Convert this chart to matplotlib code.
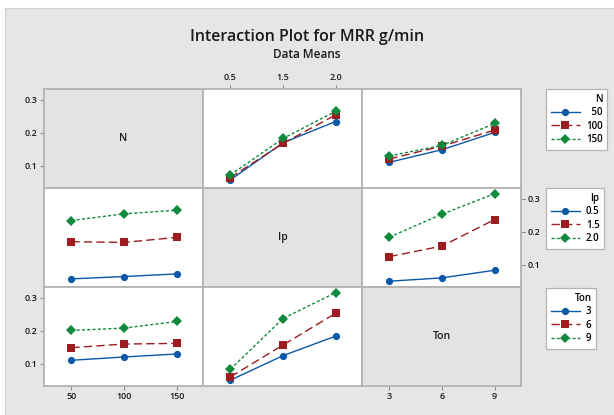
#!/usr/bin/env python3
"""
Interaction plot for MRR g/min (data means), Minitab style
"""

import numpy as np
import matplotlib
matplotlib.use("Agg")
import matplotlib.pyplot as plt
from matplotlib.lines import Line2D
from matplotlib.patches import Rectangle

plt.rcParams['font.family'] = ['Open Sans', 'DejaVu Sans']

# factor names and levels
factors = ['N', 'Ip', 'Ton']
levels = {
    'N': ['50', '100', '150'],
    'Ip': ['0.5', '1.5', '2.0'],
    'Ton': ['3', '6', '9'],
}

# cell means (rows = first factor level, cols = second factor level)
mean_N_Ip = [
    [0.058, 0.170, 0.234],   # N = 50
    [0.065, 0.168, 0.254],   # N = 100
    [0.073, 0.183, 0.265],   # N = 150
]
mean_N_Ton = [
    [0.111, 0.149, 0.201],
    [0.121, 0.160, 0.208],
    [0.130, 0.162, 0.228],
]
mean_Ip_Ton = [
    [0.051, 0.061, 0.084],   # Ip = 0.5
    [0.125, 0.157, 0.237],   # Ip = 1.5
    [0.184, 0.253, 0.315],   # Ip = 2.0
]

yticks = [0.1, 0.2, 0.3]

# series styles (level 1, 2, 3)
colors = ['#0a58a8', '#9e1b20', '#0f8a3c']
markers = ['o', 's', 'D']
dashes = ['-', (0, (6, 3)), (0, (2.2, 1.6))]
msizes = [5.2, 5.2, 5.0]

BG = '#e6e6e6'
EDGE = '#b3b3b3'


def cell_means(trace, xfac):
    """mean table indexed [trace level][x level]"""
    pair = (trace, xfac)
    if pair == ('N', 'Ip'):
        return np.array(mean_N_Ip)
    if pair == ('Ip', 'N'):
        return np.array(mean_N_Ip).T
    if pair == ('N', 'Ton'):
        return np.array(mean_N_Ton)
    if pair == ('Ton', 'N'):
        return np.array(mean_N_Ton).T
    if pair == ('Ip', 'Ton'):
        return np.array(mean_Ip_Ton)
    return np.array(mean_Ip_Ton).T


W, H = 614, 415
fig = plt.figure(figsize=(W / 100, H / 100), dpi=100)
fig.patch.set_facecolor('white')
fig.patches.append(Rectangle((5 / W, 0), 1, 1 - 8 / H, transform=fig.transFigure,
                             facecolor=BG, edgecolor='#d0d0d0', lw=0.8, zorder=-10))

fig.text(0.5, 1 - 37 / H, 'Interaction Plot for MRR g/min', ha='center', va='center',
         fontsize=11.5, fontweight='semibold', color='#1a1a1a')
fig.text(0.5, 1 - 54 / H, 'Data Means', ha='center', va='center',
         fontsize=8.5, fontweight='semibold', color='#1a1a1a')

col_x = [44, 203, 362]
row_y = [89, 188, 287]
pw, ph = 159, 98.5

axes = {}
for r, trace in enumerate(factors):
    for c, xfac in enumerate(factors):
        ax = fig.add_axes([col_x[c] / W, 1 - (row_y[r] + ph) / H, pw / W, ph / H])
        axes[(r, c)] = ax
        ax.set_xlim(-0.52, 2.5)
        ax.set_ylim(0.035, 0.332)
        for s in ax.spines.values():
            s.set_color(EDGE)
            s.set_linewidth(1.3)
        ax.tick_params(length=3, width=0.8, color='#8c8c8c', labelsize=6.5,
                       labelcolor='#1a1a1a', pad=2)
        ax.set_xticks([0, 1, 2])
        ax.set_yticks(yticks)
        ax.set_xticklabels(levels[xfac], fontweight='semibold')
        ax.set_yticklabels([f'{v:.1f}' for v in yticks], fontweight='semibold')
        ax.tick_params(bottom=False, labelbottom=False, left=False, labelleft=False)

        if r == c:
            ax.set_facecolor('#e3e3e3')
            ax.text(0.5, 0.5, trace, transform=ax.transAxes, ha='center', va='center',
                    fontsize=7.5, fontweight='semibold', color='#1a1a1a')
        else:
            ax.set_facecolor('white')
            m = cell_means(trace, xfac)
            x = np.arange(len(levels[xfac]))
            for i in range(m.shape[0]):
                ax.plot(x, m[i], color=colors[i], linestyle=dashes[i], lw=1.0,
                        marker=markers[i], markersize=msizes[i],
                        markeredgewidth=0, zorder=3 + i)

# axis labelling as in Minitab matrix
axes[(0, 0)].tick_params(left=True, labelleft=True)
axes[(2, 0)].tick_params(left=True, labelleft=True)
axes[(1, 2)].tick_params(right=True, labelright=True)
axes[(0, 1)].tick_params(top=True, labeltop=True)
axes[(2, 0)].tick_params(bottom=True, labelbottom=True)
axes[(2, 2)].tick_params(bottom=True, labelbottom=True)

# legends, one per row
leg_top = [89, 188, 288]
for r, trace in enumerate(factors):
    handles = [Line2D([], [], color=colors[i], linestyle=dashes[i], lw=1.0,
                      marker=markers[i], markersize=msizes[i], markeredgewidth=0)
               for i in range(3)]
    width = max(len(l) for l in levels[trace])
    labels = ['\u2007' * (width - len(l)) + l for l in levels[trace]]
    leg = fig.legend(handles, labels, title=trace, loc='upper left',
                     bbox_to_anchor=(546 / W, 1 - leg_top[r] / H),
                     fontsize=7, title_fontsize=7, alignment='right',
                     frameon=True, fancybox=False, edgecolor=EDGE, facecolor='white',
                     framealpha=1, handlelength=3.0, handletextpad=0.6,
                     borderpad=0.5, labelspacing=0.25, borderaxespad=0)
    leg.get_frame().set_linewidth(0.9)
    for t in leg.get_texts():
        t.set_fontweight('semibold')
    leg.get_title().set_fontweight('semibold')

fig.savefig('out.png', dpi=100, facecolor=fig.get_facecolor())
